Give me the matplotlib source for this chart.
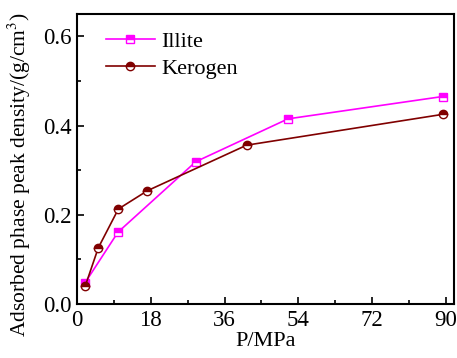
import matplotlib.pyplot as plt
from matplotlib.ticker import MultipleLocator

plt.rcParams['font.family'] = 'Liberation Serif'
plt.rcParams['mathtext.fontset'] = 'stix'

# Adsorbed phase peak density vs pressure
illite_p = [2, 10, 29, 51.5, 89.2]
illite_rho = [0.048, 0.161, 0.319, 0.415, 0.465]
kerogen_p = [2, 5.2, 10.1, 17.2, 41.4, 89.2]
kerogen_rho = [0.040, 0.126, 0.213, 0.254, 0.356, 0.425]

fig = plt.figure(figsize=(4.57, 3.58), dpi=100)
ax = fig.add_axes([77/457, 1-304/358, (454-77)/457, (304-14)/358])

ax.plot(illite_p, illite_rho, color='#ff00ff', lw=1.2, marker='s', ms=5.5,
        fillstyle='top', markerfacecoloralt='white', mec='#ff00ff', label='Illite')
ax.plot(kerogen_p, kerogen_rho, color='#800000', lw=1.2, marker='o', ms=6,
        fillstyle='top', markerfacecoloralt='white', mec='#800000', label='Kerogen')

ax.set_xlim(0, 92)
ax.set_ylim(0, 0.65)
ax.xaxis.set_major_locator(MultipleLocator(18))
ax.xaxis.set_minor_locator(MultipleLocator(9))
ax.yaxis.set_major_locator(MultipleLocator(0.2))
ax.yaxis.set_minor_locator(MultipleLocator(0.1))
ax.tick_params(which='both', direction='in', labelsize=16.5, width=1.2)
ax.tick_params(which='major', length=5, pad=4)
ax.tick_params(which='minor', length=3)
for s in ax.spines.values():
    s.set_linewidth(1.5)

ax.set_xlabel('P/MPa', fontsize=16, labelpad=1)
ax.set_ylabel('Adsorbed phase peak density/(g/cm$^3$)', fontsize=15.5)
ax.yaxis.set_label_coords(-0.117, 0.447)

ax.legend(loc='upper left', frameon=False, fontsize=16, handlelength=2.2,
          handletextpad=0.3, labelspacing=0.3, borderpad=0, borderaxespad=0,
          bbox_to_anchor=(0.077, 0.94))

fig.savefig('out.png', dpi=100)
